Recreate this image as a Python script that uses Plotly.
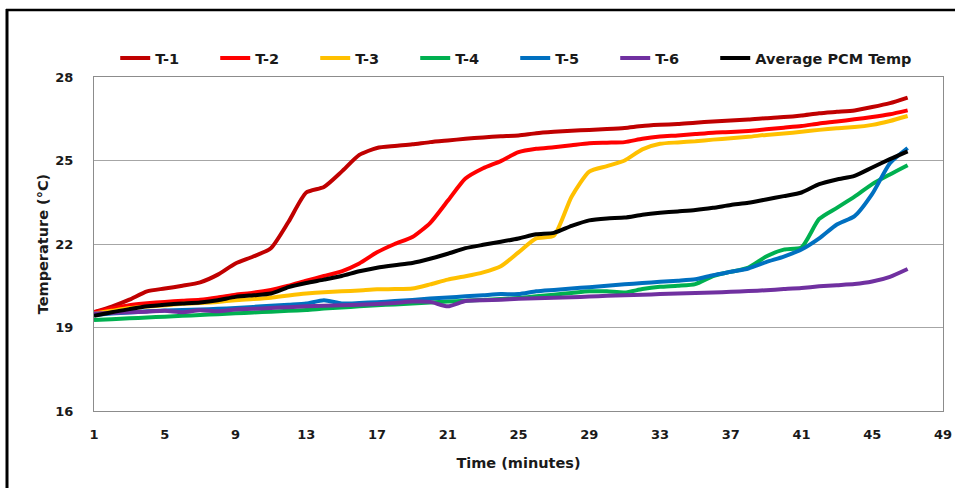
import plotly.graph_objects as go

minutes = list(range(1, 48))

t1 = [19.55, 19.75, 20.0, 20.3, 20.4, 20.5, 20.62, 20.9, 21.3, 21.55,
      21.85, 22.8, 23.85, 24.05, 24.6, 25.2, 25.45, 25.52, 25.58, 25.66,
      25.72, 25.78, 25.83, 25.87, 25.9, 25.98, 26.03, 26.07, 26.1, 26.13,
      26.17, 26.24, 26.28, 26.31, 26.36, 26.4, 26.44, 26.47, 26.52, 26.56,
      26.62, 26.7, 26.75, 26.8, 26.92, 27.06, 27.26]
t2 = [19.55, 19.68, 19.8, 19.87, 19.92, 19.96, 20.0, 20.08, 20.18, 20.25,
      20.35, 20.5, 20.68, 20.85, 21.02, 21.3, 21.7, 22.0, 22.25, 22.75,
      23.55, 24.35, 24.72, 24.98, 25.3, 25.42, 25.48, 25.55, 25.62, 25.64,
      25.66, 25.78, 25.86, 25.9, 25.95, 26.0, 26.02, 26.06, 26.12, 26.18,
      26.24, 26.33, 26.4, 26.48, 26.56, 26.66, 26.8]
t3 = [19.5, 19.6, 19.7, 19.75, 19.8, 19.85, 19.88, 19.92, 19.98, 20.02,
      20.07, 20.15, 20.22, 20.27, 20.3, 20.33, 20.37, 20.38, 20.4, 20.55,
      20.72, 20.84, 20.98, 21.2, 21.7, 22.2, 22.3, 23.7, 24.6, 24.8,
      25.0, 25.4, 25.6, 25.65, 25.69, 25.75, 25.8, 25.85, 25.92, 25.97,
      26.03, 26.1, 26.16, 26.2, 26.28, 26.42, 26.6]
t4 = [19.27, 19.3, 19.33, 19.36, 19.39, 19.42, 19.45, 19.48, 19.51, 19.54,
      19.57, 19.6, 19.63, 19.68, 19.72, 19.76, 19.8, 19.83, 19.86, 19.9,
      19.93, 19.96, 19.99, 20.02, 20.06, 20.12, 20.18, 20.24, 20.3, 20.3,
      20.26, 20.38, 20.46, 20.5, 20.56, 20.85, 21.0, 21.15, 21.55, 21.8,
      21.88, 22.9, 23.3, 23.7, 24.15, 24.5, 24.83]
t5 = [19.45, 19.5, 19.54, 19.58, 19.61, 19.63, 19.65, 19.67, 19.7, 19.74,
      19.78, 19.82, 19.86, 19.98, 19.86, 19.88, 19.91, 19.95, 19.99, 20.04,
      20.08, 20.12, 20.16, 20.2, 20.2, 20.3, 20.35, 20.4, 20.45, 20.5,
      20.55, 20.6, 20.64, 20.68, 20.73, 20.88, 21.0, 21.12, 21.35, 21.55,
      21.8, 22.2, 22.7, 23.0, 23.8, 24.9, 25.45]
t6 = [19.5, 19.52, 19.55, 19.57, 19.6, 19.55, 19.62, 19.58, 19.65, 19.67,
      19.7, 19.73, 19.76, 19.78, 19.8, 19.82, 19.84, 19.88, 19.93, 19.92,
      19.76, 19.95, 19.98, 20.0, 20.03, 20.05, 20.07, 20.09, 20.11, 20.14,
      20.16, 20.18, 20.2, 20.22, 20.24, 20.26, 20.28, 20.31, 20.34, 20.38,
      20.42, 20.48, 20.52, 20.56, 20.65, 20.82, 21.1]
avg = [19.42, 19.55, 19.66, 19.76, 19.82, 19.86, 19.9, 19.98, 20.1, 20.16,
       20.22, 20.45, 20.6, 20.72, 20.85, 21.02, 21.15, 21.24, 21.32, 21.47,
       21.65, 21.85, 21.97, 22.08, 22.2, 22.35, 22.4, 22.65, 22.85, 22.92,
       22.95, 23.05, 23.12, 23.17, 23.22, 23.3, 23.4, 23.48, 23.6, 23.72,
       23.85, 24.15, 24.32, 24.45, 24.75, 25.05, 25.33]

series_names = ["T-1", "T-2", "T-3", "T-4", "T-5", "T-6", "Average PCM Temp"]
series_values = [t1, t2, t3, t4, t5, t6, avg]
series_colors = ["#C00000", "#FF0000", "#FFC000", "#00B050", "#0070C0", "#7030A0", "#000000"]

x_ticks = [1, 5, 9, 13, 17, 21, 25, 29, 33, 37, 41, 45, 49]
y_ticks = [16, 19, 22, 25, 28]

FONT = "DejaVu Sans"
TXT = "#1a1a1a"

fig = go.Figure()
for name, vals, col in zip(series_names, series_values, series_colors):
    fig.add_trace(go.Scatter(
        x=minutes, y=vals, name=name, mode="lines",
        line=dict(color=col, width=4, shape="spline", smoothing=0.6),
    ))
# invisible spacer entry so the last legend label is not clipped
fig.add_trace(go.Scatter(x=[None], y=[None], name=" ", mode="lines",
                         line=dict(color="rgba(0,0,0,0)", width=0),
                         hoverinfo="skip"))

fig.update_layout(
    width=955, height=488,
    margin=dict(l=94, r=12, t=77, b=77, autoexpand=False),
    paper_bgcolor="white", plot_bgcolor="white",
    font=dict(family=FONT, size=13, color=TXT, weight="bold"),
    showlegend=True,
    legend=dict(
        orientation="h", x=0.025, xanchor="left", y=1.057, yanchor="middle",
        entrywidth=55, entrywidthmode="pixels",
        font=dict(family=FONT, size=14.5, color=TXT, weight="bold"),
        itemwidth=30, tracegroupgap=0, bgcolor="rgba(0,0,0,0)",
    ),
    xaxis=dict(
        range=[1, 49], tickvals=x_ticks, ticktext=[str(v) for v in x_ticks],
        showgrid=False, zeroline=False,
        showline=True, linecolor="#8C8C8C", linewidth=1, mirror=True,
        ticks="", ticklabelstandoff=11,
        tickfont=dict(family=FONT, size=13, color=TXT, weight="bold"),
        title=dict(text="Time (minutes)", standoff=17,
                   font=dict(family=FONT, size=14.5, color=TXT, weight="bold")),
    ),
    yaxis=dict(
        range=[16, 28], tickvals=y_ticks, ticktext=[str(v) for v in y_ticks],
        showgrid=True, gridcolor="#A6A6A6", gridwidth=1, zeroline=False,
        showline=True, linecolor="#8C8C8C", linewidth=1, mirror=True,
        ticks="", ticklabelstandoff=17,
        tickfont=dict(family=FONT, size=13, color=TXT, weight="bold"),
        title=dict(text="Temperature (°C)", standoff=3,
                   font=dict(family=FONT, size=14.5, color=TXT, weight="bold")),
    ),
    shapes=[
        dict(type="line", xref="paper", yref="paper",
             x0=(6 - 94) / 849, x1=(960 - 94) / 849,
             y0=(411 - 10) / 334, y1=(411 - 10) / 334,
             line=dict(color="black", width=2.5)),
        dict(type="line", xref="paper", yref="paper",
             x0=(7 - 94) / 849, x1=(7 - 94) / 849,
             y0=(411 - 9) / 334, y1=(411 - 495) / 334,
             line=dict(color="black", width=3)),
    ],
)

fig.write_html(
    "out.html",
    config={"displayModeBar": False},
    post_script="document.body.style.margin='0';document.body.style.padding='0';",
)
